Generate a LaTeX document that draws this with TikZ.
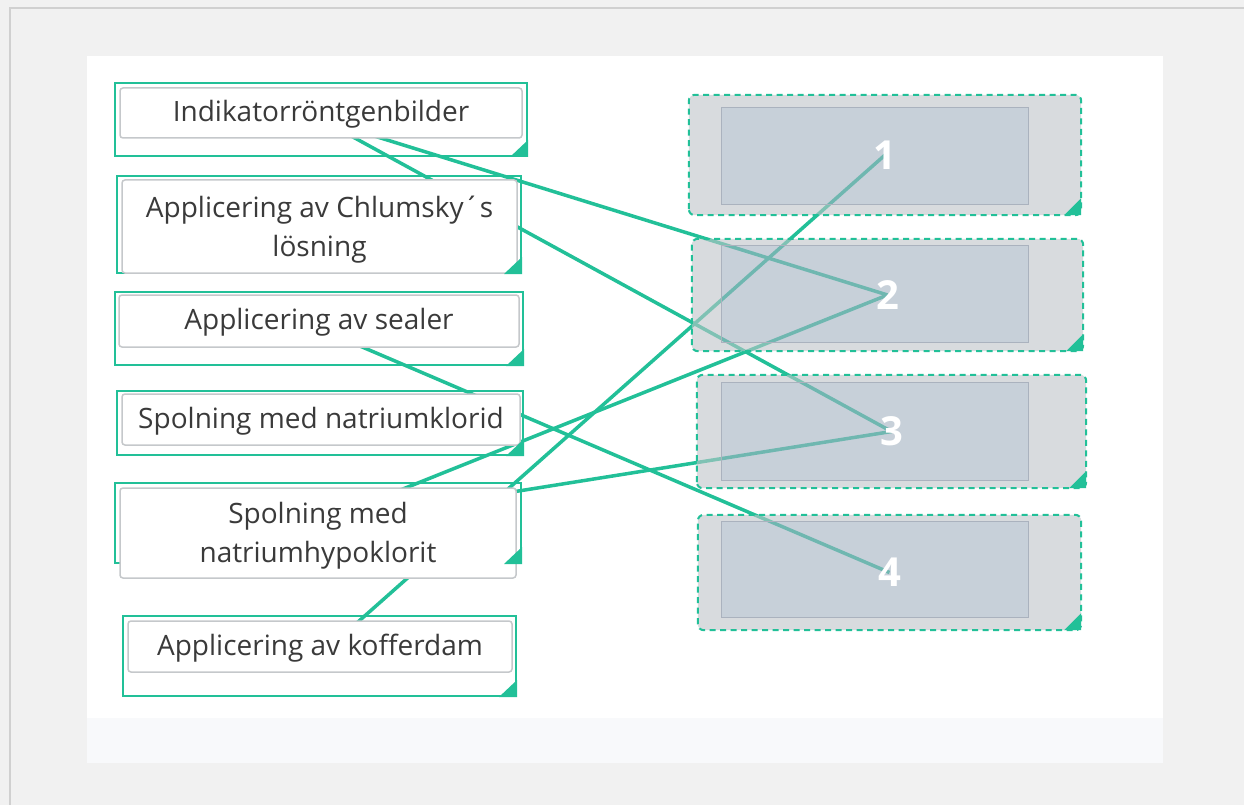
\documentclass[tikz,border=0pt]{standalone}
\usepackage{fontspec}
\setmainfont{Open Sans}
\pgfdeclarelayer{back}
\pgfdeclarelayer{lines}
\pgfsetlayers{back,lines,main}
\definecolor{grn}{RGB}{34,192,152}
\definecolor{pagebg}{RGB}{241,241,241}
\definecolor{edgegray}{RGB}{208,208,208}
\definecolor{footbg}{RGB}{248,249,251}
\definecolor{txt}{RGB}{58,58,58}
\definecolor{ibord}{RGB}{197,200,203}
\definecolor{ringfill}{RGB}{190,196,200}
\definecolor{slotfill}{RGB}{163,177,193}
\definecolor{slotbord}{RGB}{170,178,190}
\tikzset{
  outerbox/.style={draw=grn, line width=2pt, inner sep=0pt},
  itembox/.style={draw=ibord, fill=white, line width=1.5pt, rounded corners=3pt, inner sep=0pt},
  itemtext/.style={align=center, text=txt, inner sep=0pt, font=\fontsize{28}{39}\selectfont},
  dropbox/.style={inner sep=0pt},
  slotbox/.style={inner sep=0pt},
  conn/.style={draw=grn, line width=3.5pt},
  num/.style={text=white, font=\fontsize{40}{40}\selectfont\bfseries, inner sep=0pt},
}
\begin{document}
\begin{tikzpicture}[x=1pt,y=-1pt]
\useasboundingbox (0,0) rectangle (1244,805);
\begin{pgfonlayer}{back}
  \fill[pagebg] (0,0) rectangle (1244,805);
  \draw[edgegray, line width=2pt] (10,805) -- (10,8) -- (1244,8);
  \fill[white] (87,56) rectangle (1163,718);
  \fill[footbg] (87,718) rectangle (1163,763);
\end{pgfonlayer}

% left items: outer frames
\node[outerbox, minimum width=412pt, minimum height=73pt] (L1) at (321,119.5) {};
\node[outerbox, minimum width=404pt, minimum height=97pt] (L2) at (319,224.5) {};
\node[outerbox, minimum width=408pt, minimum height=73pt] (L3) at (319,328.5) {};
\node[outerbox, minimum width=406pt, minimum height=64pt] (L4) at (320,423) {};
\node[outerbox, minimum width=406pt, minimum height=80pt] (L5) at (318,523) {};
\node[outerbox, minimum width=393pt, minimum height=80pt] (L6) at (319.5,656) {};

% left items: text boxes
\node[itembox, minimum width=402pt, minimum height=50pt] (B1) at (321,113) {};
\node[itembox, minimum width=395pt, minimum height=93pt] (B2) at (319.5,226.5) {};
\node[itembox, minimum width=400pt, minimum height=52pt] (B3) at (319,321) {};
\node[itembox, minimum width=398pt, minimum height=51pt] (B4) at (321,419.5) {};
\node[itembox, minimum width=396pt, minimum height=90pt] (B5) at (318,533) {};
\node[itembox, minimum width=384pt, minimum height=51pt] (B6) at (320,646.5) {};

\node[itemtext] (T1) at ([yshift=-1.5pt]B1.center) {Indikatorröntgenbilder};
\node[itemtext] (T2) at ([yshift=-3pt]B2.center) {Applicering av Chlumsky´s\\lösning};
\node[itemtext] (T3) at ([yshift=-1.5pt]B3.center) {Applicering av sealer};
\node[itemtext] (T4) at ([yshift=-1.5pt]B4.center) {Spolning med natriumklorid};
\node[itemtext] (T5) at ([yshift=-3pt]B5.center) {Spolning med\\natriumhypoklorit};
\node[itemtext] (T6) at ([yshift=-1.5pt]B6.center) {Applicering av kofferdam};

\foreach \n in {L1,L2,L3,L4,L5,L6}{
  \fill[grn] (\n.south east) -- ++(-18,0) -- ++(18,-17) -- cycle;
}

% right drop zones
\node[dropbox, minimum width=392pt, minimum height=120pt] (R1) at (885,155) {};
\node[dropbox, minimum width=391pt, minimum height=112pt] (R2) at (887.5,295) {};
\node[dropbox, minimum width=389pt, minimum height=113pt] (R3) at (891.5,431.5) {};
\node[dropbox, minimum width=383pt, minimum height=115pt] (R4) at (889.5,572.5) {};
\node[slotbox, minimum width=306pt, minimum height=96pt] (S1) at (875,156) {};
\node[slotbox, minimum width=306pt, minimum height=96pt] (S2) at (875,294) {};
\node[slotbox, minimum width=306pt, minimum height=97pt] (S3) at (875,431.5) {};
\node[slotbox, minimum width=306pt, minimum height=95pt] (S4) at (875,569.5) {};

\foreach \r/\s in {R1/S1,R2/S2,R3/S3,R4/S4}{
  \fill[ringfill, fill opacity=0.6, even odd rule]
    [rounded corners=6pt] (\r.south west) rectangle (\r.north east)
    [sharp corners] (\s.south west) rectangle (\s.north east);
  \fill[slotfill, fill opacity=0.6] (\s.south west) rectangle (\s.north east);
  \draw[slotbord, line width=1pt] (\s.south west) rectangle (\s.north east);
  \draw[grn, line width=2pt, dash pattern=on 6pt off 4.5pt, rounded corners=6pt]
    (\r.south west) rectangle (\r.north east);
  \fill[grn] (\r.south east) -- ++(-17,0) -- ++(17,-17) -- cycle;
}

% connectors
\begin{pgfonlayer}{lines}
  \draw[conn] (L1.center) -- (R2.center);
  \draw[conn] (L1.center) -- (R3.center);
  \draw[conn] (L3.center) -- (R4.center);
  \draw[conn] (L5.center) -- (R2.center);
  \draw[conn] (L5.center) -- (R3.center);
  \draw[conn] (L6.center) -- (R1.center);
\end{pgfonlayer}

\node[num] (N1) at (R1.center) {1};
\node[num] (N2) at (R2.center) {2};
\node[num] (N3) at (R3.center) {3};
\node[num] (N4) at (R4.center) {4};
\end{tikzpicture}
\end{document}
